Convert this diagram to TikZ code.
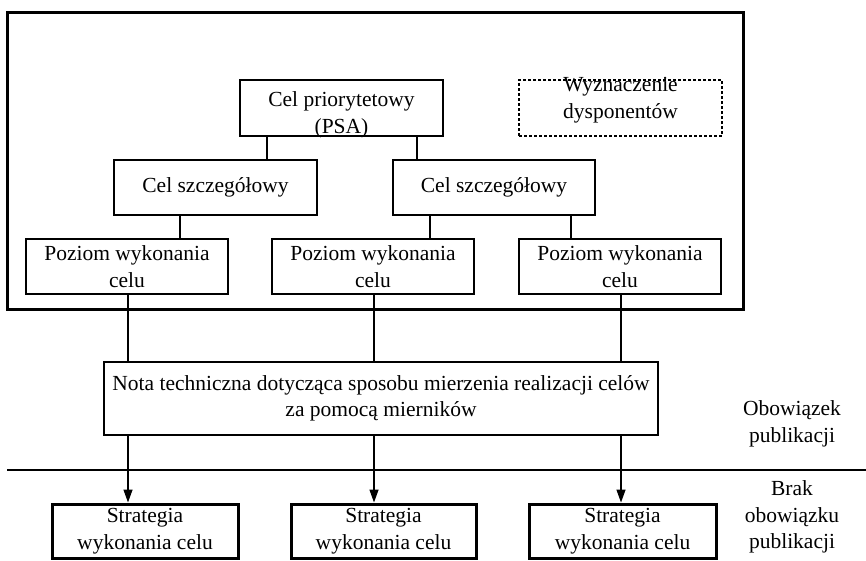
\documentclass[tikz,border=0pt]{standalone}
\usepackage{fontspec}
\setmainfont{Liberation Serif}
\usetikzlibrary{arrows.meta}
\begin{document}
\begin{tikzpicture}[x=1pt,y=-1pt,
  txt/.style={align=center,inner sep=0pt,font=\fontsize{21.5}{26.5}\selectfont},
  box/.style={txt,draw,line width=1.8pt,minimum width=203pt,minimum height=55pt},
  thickbox/.style={txt,draw,line width=3pt,minimum width=186pt,minimum height=54pt},
  conn/.style={line width=1.4pt},
  arr/.style={line width=1.4pt,-{Triangle[length=13pt,width=9pt]}}]
\useasboundingbox (0,0) rectangle (866,560);
% outer frame
\node[draw,line width=3pt,minimum width=736pt,minimum height=297pt,inner sep=0pt] (frame) at (375,160.5) {};
% top level
\node[box,minimum height=56pt] (psa) at (341.5,108) {};
\node[txt] (psat) at (341.5,115) {Cel priorytetowy\\(PSA)};
\node[box,line width=1.5pt,minimum height=56pt,dash pattern=on 3pt off 2pt] (wyz) at (620.5,108) {};
\node[txt] (wyzt) at (620.5,100) {Wyznaczenie\\dysponentów};
% second level
\node[box] (cs1) at (215.5,187.5) {Cel szczegółowy};
\node[box,minimum width=202pt] (cs2) at (494,187.5) {Cel szczegółowy};
% third level
\node[box,minimum width=202pt] (p1) at (127,266.5) {Poziom wykonania\\celu};
\node[box,minimum width=202pt] (p2) at (373,266.5) {Poziom wykonania\\celu};
\node[box,minimum width=202pt] (p3) at (620,266.5) {Poziom wykonania\\celu};
% nota
\node[box,line width=2.2pt,minimum width=554pt,minimum height=73pt] (nota) at (381,398.5) {Nota techniczna dotycząca sposobu mierzenia realizacji celów\\za pomocą mierników};
% strategia
\node[thickbox] (s1) at (145,531) {Strategia\\wykonania celu};
\node[thickbox,minimum width=185pt] (s2) at (383.5,531) {Strategia\\wykonania celu};
\node[thickbox,minimum width=187pt] (s3) at (622.5,531) {Strategia\\wykonania celu};
% side labels
\node[txt] (obo) at (792,424) {Obowiązek\\publikacji};
\node[txt] (brak) at (792,517) {Brak\\obowiązku\\publikacji};
% separator
\coordinate (sepl) at (7,470);
\coordinate (sepr) at (866,470);
\draw[line width=1.6pt] (sepl) -- (sepr);
% connectors
\coordinate (k1) at (267,0);
\coordinate (k2) at (417,0);
\coordinate (k3) at (180,0);
\coordinate (k4) at (430,0);
\coordinate (k5) at (571,0);
\coordinate (m1) at (128,0);
\coordinate (m2) at (374,0);
\coordinate (m3) at (621,0);
\draw[conn] (psa.south -| k1) -- (cs1.north -| k1);
\draw[conn] (psa.south -| k2) -- (cs2.north -| k2);
\draw[conn] (cs1.south -| k3) -- (p1.north -| k3);
\draw[conn] (cs2.south -| k4) -- (p2.north -| k4);
\draw[conn] (cs2.south -| k5) -- (p3.north -| k5);
\draw[conn] (p1.south -| m1) -- (nota.north -| m1);
\draw[conn] (p2.south -| m2) -- (nota.north -| m2);
\draw[conn] (p3.south -| m3) -- (nota.north -| m3);
\draw[arr] (nota.south -| m1) -- (s1.north -| m1);
\draw[arr] (nota.south -| m2) -- (s2.north -| m2);
\draw[arr] (nota.south -| m3) -- (s3.north -| m3);
\end{tikzpicture}
\end{document}
